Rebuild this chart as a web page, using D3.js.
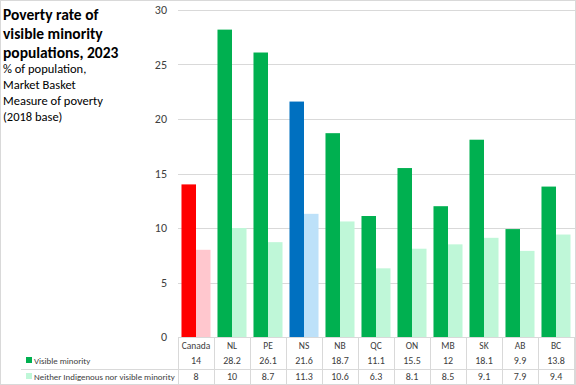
<!DOCTYPE html>
<html>
<head>
<meta charset="utf-8">
<title>Poverty rate of visible minority populations</title>
<script src="https://d3js.org/d3.v7.min.js"></script>
<style>
  body { margin: 0; background: #fff; }
  text { font-family: "Carlito", "Lato", "Liberation Sans", sans-serif; }
</style>
</head>
<body>
<div id="chart"></div>
<script>
// data
var provinces = ["Canada", "NL", "PE", "NS", "NB", "QC", "ON", "MB", "SK", "AB", "BC"];
var visibleMinority = [14, 28.2, 26.1, 21.6, 18.7, 11.1, 15.5, 12, 18.1, 9.9, 13.8];
var neitherGroup = [8, 10, 8.7, 11.3, 10.6, 6.3, 8.1, 8.5, 9.1, 7.9, 9.4];
var yTicks = [0, 5, 10, 15, 20, 25, 30];
var seriesNames = ["Visible minority", "Neither Indigenous nor visible minority"];

var width = 576, height = 385;
var plotLeft = 178, plotRight = 574, plotTop = 10, plotBottom = 337;

var svg = d3.select("#chart").append("svg")
  .attr("width", width)
  .attr("height", height);

// outer frame
svg.append("rect")
  .attr("x", 0.5).attr("y", 0.5)
  .attr("width", width - 1).attr("height", height - 1)
  .attr("fill", "none").attr("stroke", "#d9d9d9");

var x = d3.scaleBand().domain(provinces).range([plotLeft, plotRight]).paddingInner(0).paddingOuter(0);
var y = d3.scaleLinear().domain([0, 30]).range([plotBottom, plotTop]);
var xs = d3.scaleBand().domain([0, 1]).range([0, x.bandwidth()]).paddingOuter(0.24);

// gridlines + y labels
svg.append("g").selectAll("line").data(yTicks).enter().append("line")
  .attr("x1", plotLeft).attr("x2", 575)
  .attr("y1", function(d) { return Math.round(y(d)) + 0.5; })
  .attr("y2", function(d) { return Math.round(y(d)) + 0.5; })
  .attr("stroke", "#d9d9d9");

svg.append("g").selectAll("text").data(yTicks).enter().append("text")
  .attr("x", 167)
  .attr("y", function(d) { return y(d) + 4; })
  .attr("text-anchor", "end")
  .attr("font-size", 12)
  .attr("fill", "#404040")
  .text(function(d) { return d; });

// colours: Canada red, NS blue, the rest green
function darkCol(p) { return p == "Canada" ? "#ff0000" : p == "NS" ? "#0070c0" : "#00b050"; }
function lightCol(p) { return p == "Canada" ? "#ffc7ce" : p == "NS" ? "#bde1f9" : "#bff7d8"; }

var groups = svg.append("g").selectAll("g").data(provinces).enter().append("g")
  .attr("transform", function(d) { return "translate(" + x(d) + ",0)"; });

groups.append("rect")
  .attr("x", xs(0)).attr("width", xs.bandwidth())
  .attr("y", function(d, i) { return y(visibleMinority[i]); })
  .attr("height", function(d, i) { return y(0) - y(visibleMinority[i]); })
  .attr("fill", darkCol);

groups.append("rect")
  .attr("x", xs(1)).attr("width", xs.bandwidth())
  .attr("y", function(d, i) { return y(neitherGroup[i]); })
  .attr("height", function(d, i) { return y(0) - y(neitherGroup[i]); })
  .attr("fill", lightCol);

// data table under the plot
var tableTop = 338, tableBottom = 384;
var rowY = [349, 364, 380];
var tbl = svg.append("g");

tbl.selectAll("line.v").data(provinces.concat(["end"])).enter().append("line")
  .attr("x1", function(d, i) { return Math.round(plotLeft + i * x.bandwidth()) + 0.5; })
  .attr("x2", function(d, i) { return Math.round(plotLeft + i * x.bandwidth()) + 0.5; })
  .attr("y1", tableTop).attr("y2", tableBottom)
  .attr("stroke", "#d9d9d9");

tbl.append("line")
  .attr("x1", 21).attr("x2", plotRight)
  .attr("y1", 369.5).attr("y2", 369.5)
  .attr("stroke", "#d9d9d9");

tbl.selectAll("text.cat").data(provinces).enter().append("text")
  .attr("x", function(d) { return x(d) + x.bandwidth() / 2; })
  .attr("y", rowY[0])
  .attr("text-anchor", "middle")
  .attr("font-size", 9.5)
  .attr("fill", "#404040")
  .text(function(d) { return d; });

[visibleMinority, neitherGroup].forEach(function(vals, r) {
  tbl.selectAll("text.r" + r).data(vals).enter().append("text")
    .attr("x", function(d, i) { return x(provinces[i]) + x.bandwidth() / 2; })
    .attr("y", rowY[r + 1])
    .attr("text-anchor", "middle")
    .attr("font-size", 10)
    .attr("fill", "#404040")
    .text(function(d) { return d; });
});

// legend keys in the table
var keyCols = ["#00b050", "#bff7d8"];
seriesNames.forEach(function(name, r) {
  tbl.append("rect")
    .attr("x", 26).attr("y", rowY[r + 1] - 7)
    .attr("width", 6).attr("height", 6)
    .attr("fill", keyCols[r]);
  tbl.append("text")
    .attr("x", 34).attr("y", rowY[r + 1])
    .attr("font-size", 8.9)
    .attr("fill", "#404040")
    .text(name);
});

// title and subtitle
var title = ["Poverty rate of", "visible minority", "populations, 2023"];
svg.append("g").selectAll("text").data(title).enter().append("text")
  .attr("x", 3)
  .attr("y", function(d, i) { return 20 + i * 19; })
  .attr("font-size", 15.5)
  .attr("font-weight", "bold")
  .attr("fill", "#000")
  .text(function(d) { return d; });

var sub = ["% of population,", "Market Basket", "Measure of poverty", "(2018 base)"];
svg.append("g").selectAll("text").data(sub).enter().append("text")
  .attr("x", 3)
  .attr("y", function(d, i) { return 73 + i * 16; })
  .attr("font-size", 12.5)
  .attr("fill", "#000")
  .text(function(d) { return d; });
</script>
</body>
</html>
